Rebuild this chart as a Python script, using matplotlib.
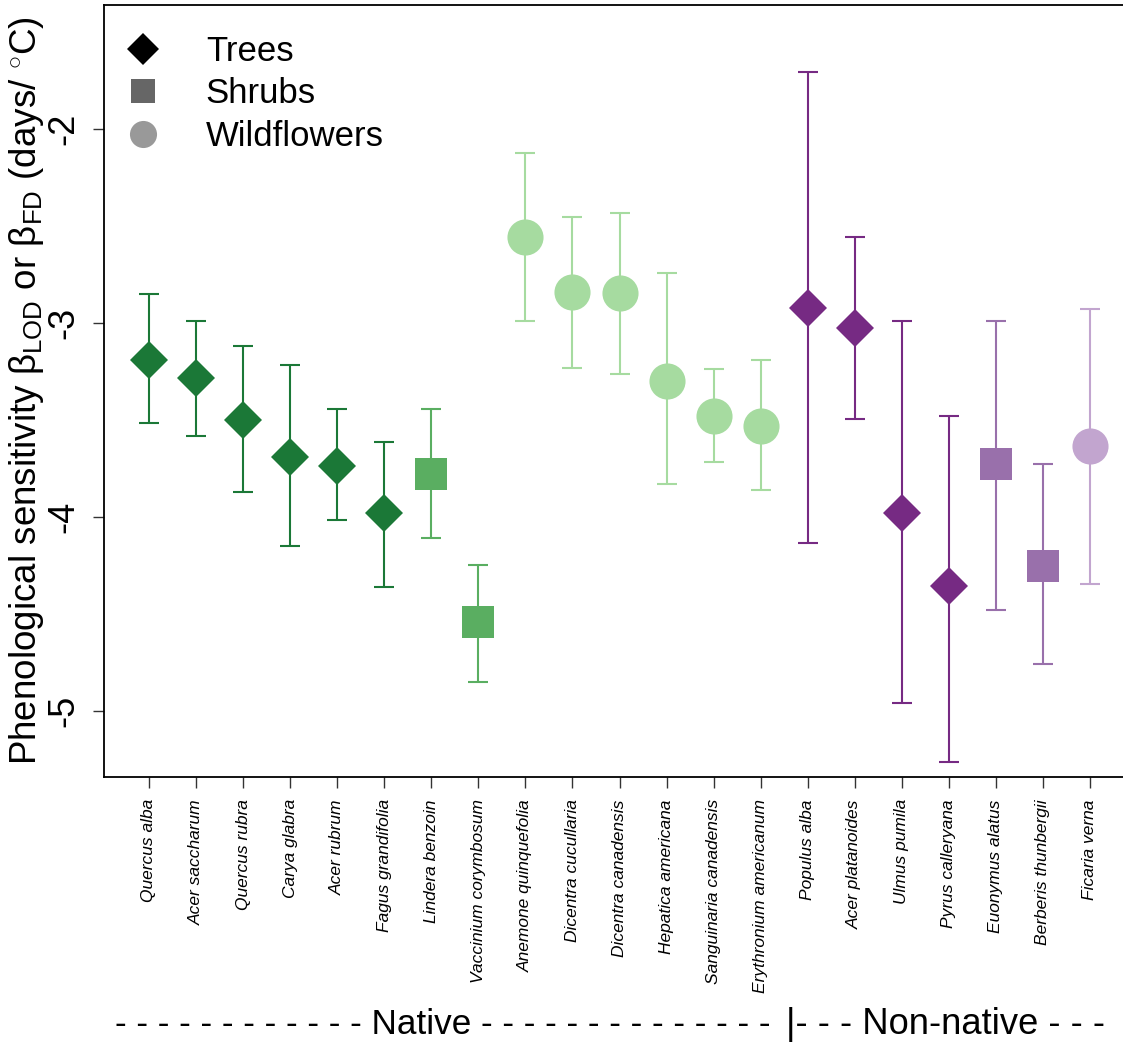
import matplotlib
matplotlib.use("Agg")
import matplotlib.pyplot as plt
from matplotlib.lines import Line2D

plt.rcParams['font.family'] = ['Liberation Sans', 'DejaVu Sans']
plt.rcParams['mathtext.fontset'] = 'custom'
plt.rcParams['mathtext.rm'] = 'Liberation Sans'
plt.rcParams['mathtext.it'] = 'Liberation Sans:italic'

species = ["Quercus alba", "Acer saccharum", "Quercus rubra", "Carya glabra",
           "Acer rubrum", "Fagus grandifolia", "Lindera benzoin",
           "Vaccinium corymbosum", "Anemone quinquefolia", "Dicentra cucullaria",
           "Dicentra canadensis", "Hepatica americana", "Sanguinaria canadensis",
           "Erythronium americanum", "Populus alba", "Acer platanoides",
           "Ulmus pumila", "Pyrus calleryana", "Euonymus alatus",
           "Berberis thunbergii", "Ficaria verna"]
origin = ["Native"] * 14 + ["Non-native"] * 7
form = ["Trees"] * 6 + ["Shrubs"] * 2 + ["Wildflowers"] * 6 + \
       ["Trees"] * 4 + ["Shrubs"] * 2 + ["Wildflowers"]
estimate = [-3.19, -3.285, -3.50, -3.689, -3.739, -3.977, -3.778, -4.54,
            -2.557, -2.839, -2.843, -3.297, -3.478, -3.531,
            -2.924, -3.027, -3.977, -4.356, -3.727, -4.253, -3.632]
upper = [-2.852, -2.988, -3.119, -3.215, -3.445, -3.611, -3.445, -4.25,
         -2.122, -2.452, -2.431, -2.744, -3.235, -3.193,
         -1.708, -2.558, -2.99, -3.478, -2.99, -3.725, -2.929]
lower = [-3.514, -3.581, -3.87, -4.148, -4.017, -4.359, -4.106, -4.849,
         -2.99, -3.234, -3.263, -3.832, -3.718, -3.861,
         -4.132, -3.497, -4.96, -5.261, -4.477, -4.759, -4.345]

colors = {("Native", "Trees"): "#1b7837",
          ("Native", "Shrubs"): "#5aae61",
          ("Native", "Wildflowers"): "#a6dba0",
          ("Non-native", "Trees"): "#762a83",
          ("Non-native", "Shrubs"): "#9970ab",
          ("Non-native", "Wildflowers"): "#c2a5cf"}
markers = {"Trees": "D", "Shrubs": "s", "Wildflowers": "o"}
msizes = {"Trees": 19.3, "Shrubs": 22.5, "Wildflowers": 26.0}

W, H = 1123, 1044
fig = plt.figure(figsize=(W / 100, H / 100), dpi=100)
left_px, right_px, top_px, bot_px = 104, 1127, 5, 777
ax = fig.add_axes([left_px / W, 1 - bot_px / H, (right_px - left_px) / W,
                   (bot_px - top_px) / H])

xpos = list(range(1, len(species) + 1))
for i, x in enumerate(xpos):
    c = colors[(origin[i], form[i])]
    e = estimate[i]
    ax.errorbar([x], [e], yerr=[[e - lower[i]], [upper[i] - e]],
                fmt='none', ecolor=c, elinewidth=1.5, capsize=7.5,
                capthick=1.5, zorder=2)
    ax.plot([x], [e], marker=markers[form[i]], ms=msizes[form[i]], ls='none',
            color=c, mec=c, mew=0, zorder=3)

sp = 47.05
ax.set_xlim(1 - (149 - left_px) / sp, 1 + (right_px - 149) / sp)
ax.set_ylim(-2 - (bot_px - 129) / 194, -2 + (129 - top_px) / 194)
ax.set_xticks(xpos)
ax.set_xticklabels(species, rotation=90, fontstyle='italic', fontsize=12.5,
                   va='top')
ax.set_yticks([-2, -3, -4, -5])
ax.set_yticklabels(["-2", "-3", "-4", "-5"], rotation=90, va='center',
                   fontsize=26)
ax.tick_params(axis='both', length=8, width=1.0, color='#333333')
ax.tick_params(axis='x', pad=8)
ax.tick_params(axis='y', pad=8)
for s in ax.spines.values():
    s.set_linewidth(1.3)

ax.set_ylabel(r"Phenological sensitivity β$_{\mathregular{LOD}}$ or "
              r"β$_{\mathregular{FD}}$ (days/ $^{\circ}$C)", fontsize=26.5)
ax.yaxis.set_label_coords(-(104 - 46) / (right_px - left_px), 0.5)

handles = [Line2D([], [], marker='D', ls='none', color='black', ms=15.8, mew=0),
           Line2D([], [], marker='s', ls='none', color='#666666', ms=17.3, mew=0),
           Line2D([], [], marker='o', ls='none', color='#999999', ms=19.5, mew=0)]
ax.legend(handles, ["Trees", "Shrubs", "Wildflowers"], loc='upper left',
          bbox_to_anchor=((126 - left_px) / (right_px - left_px),
                          1 - (35 - top_px) / (bot_px - top_px)),
          frameon=False, fontsize=25, handlelength=1.0, handletextpad=1.3,
          labelspacing=0.27, borderpad=0, borderaxespad=0)

left_txt = "- " * 12 + "Native" + " -" * 14
fig.text(115 / W, 1 - 1034 / H, left_txt, fontsize=25.3, ha='left',
         va='baseline')
fig.text(786 / W, 1 - 1034 / H, "|- - - Non-native - - -", fontsize=26.2,
         ha='left', va='baseline')

fig.savefig("out.png", dpi=100)
